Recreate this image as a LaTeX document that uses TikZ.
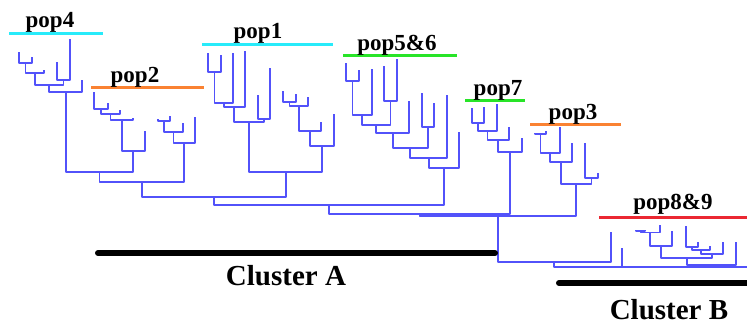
\documentclass[tikz,border=0pt]{standalone}
\usepackage{fontspec}
\setmainfont{Liberation Serif}
\usetikzlibrary{calc}
\definecolor{treeblue}{RGB}{82,82,250}
\definecolor{popcyan}{RGB}{40,235,250}
\definecolor{poporange}{RGB}{250,130,50}
\definecolor{popgreen}{RGB}{40,228,40}
\definecolor{popred}{RGB}{235,40,50}
% join two branches at a given height
\newcommand{\merge}[4]{%
  \path let \p1=(#2), \p2=(#3) in ({(\x1+\x2)/2},{-#4pt}) coordinate (#1);
  \draw[branch] (#2) |- (#1) -| (#3);}

\begin{document}
\begin{tikzpicture}[x=1pt, y=-1pt,
  branch/.style={draw=treeblue, line width=1.9pt, line join=round},
  popbar/.style={line width=3pt},
  clbar/.style={line width=6pt, line cap=round},
  poplab/.style={anchor=base, inner sep=0pt, font=\bfseries\fontsize{23}{25}\selectfont},
  cllab/.style={anchor=base, inner sep=0pt, font=\bfseries\fontsize{29}{32}\selectfont}
]
\useasboundingbox (0,0) rectangle (747,325);

% pop4
\coordinate (d1) at (19,52);
\coordinate (d2) at (32,57);
\coordinate (d3) at (44,70);
\coordinate (d4) at (57,62);
\coordinate (d5) at (70,39);
\coordinate (d6) at (82,80);
\merge{d12}{d1}{d2}{63}
\merge{d13}{d12}{d3}{73}
\merge{d45}{d4}{d5}{80}
\merge{d15}{d13}{d45}{85}
\merge{d16}{d15}{d6}{92}

% pop2
\coordinate (b1) at (94,92);
\coordinate (b2) at (108,103);
\coordinate (b3) at (120,110);
\coordinate (b4) at (133,118);
\coordinate (b5) at (145,131);
\merge{b12}{b1}{b2}{109}
\merge{b13}{b12}{b3}{114}
\merge{b14}{b13}{b4}{120}
\merge{b15}{b14}{b5}{151}
\merge{db}{d16}{b15}{172}
\coordinate (c1) at (158,119);
\coordinate (c2) at (170,116);
\coordinate (c3) at (183,123);
\coordinate (c4) at (195,117);
\merge{c12}{c1}{c2}{121}
\merge{c13}{c12}{c3}{132}
\merge{c14}{c13}{c4}{143}
\merge{dc}{db}{c14}{182}

% pop1
\coordinate (e1) at (208,53);
\coordinate (e2) at (221,55);
\coordinate (e3) at (233,53);
\coordinate (e4) at (245,51);
\coordinate (e5) at (258,95);
\coordinate (e6) at (270,68);
\merge{e12}{e1}{e2}{72}
\merge{e13}{e12}{e3}{103}
\merge{e14}{e13}{e4}{107}
\merge{e56}{e5}{e6}{119}
\merge{e16}{e14}{e56}{122}
\coordinate (f1) at (283,91);
\coordinate (f2) at (296,94);
\coordinate (f3) at (308,97);
\coordinate (f4) at (321,122);
\coordinate (f5) at (334,114);
\merge{f12}{f1}{f2}{102}
\merge{f13}{f12}{f3}{106}
\merge{f14}{f13}{f4}{131}
\merge{f15}{f14}{f5}{146}
\merge{ef}{e16}{f15}{172}
\merge{df}{dc}{ef}{197}

% pop5&6
\coordinate (g1) at (346,63);
\coordinate (g2) at (359,70);
\coordinate (g3) at (372,69);
\coordinate (g4) at (384,66);
\coordinate (g5) at (397,59);
\coordinate (g6) at (409,101);
\coordinate (g7) at (422,93);
\coordinate (g8) at (434,103);
\coordinate (g9) at (447,95);
\coordinate (g10) at (459,132);
\merge{g12}{g1}{g2}{81}
\merge{g13}{g12}{g3}{115}
\merge{g45}{g4}{g5}{101}
\merge{g15}{g13}{g45}{125}
\merge{g16}{g15}{g6}{133}
\merge{g78}{g7}{g8}{127}
\merge{g18}{g16}{g78}{148}
\merge{g19}{g18}{g9}{158}
\merge{g110}{g19}{g10}{168}
\merge{dg}{df}{g110}{205}

% pop7
\coordinate (h1) at (472,108);
\coordinate (h2) at (484,107);
\coordinate (h3) at (497,104);
\coordinate (h4) at (509,127);
\coordinate (h5) at (522,138);
\merge{h12}{h1}{h2}{123}
\merge{h13}{h12}{h3}{131}
\merge{h14}{h13}{h4}{140}
\merge{h15}{h14}{h5}{152}
\merge{dh}{dg}{h15}{214}

% pop3
\coordinate (k1) at (535,133);
\coordinate (k2) at (546,131);
\coordinate (k3) at (560,127);
\coordinate (k4) at (572,143);
\coordinate (k5) at (585,143);
\coordinate (k6) at (598,173);
\merge{k12}{k1}{k2}{134}
\merge{k13}{k12}{k3}{153}
\merge{k14}{k13}{k4}{162}
\merge{k56}{k5}{k6}{178}
\merge{k16}{k14}{k56}{184}
\merge{clA}{dh}{k16}{216}

% pop8&9
\coordinate (m1) at (611,232);
\coordinate (m2) at (622,248);
\merge{am}{clA}{m1}{262}
\coordinate (n1) at (636,230);
\coordinate (n2) at (645,230);
\coordinate (n3) at (660,225);
\coordinate (n4) at (672,231);
\merge{n12}{n1}{n2}{231}
\merge{n13}{n12}{n3}{232.5}
\merge{n14}{n13}{n4}{246}
\coordinate (p1) at (686,226);
\coordinate (p2) at (698,242);
\coordinate (p3) at (710,246);
\coordinate (p4) at (723,242);
\coordinate (p5) at (736,242);
\merge{p12}{p1}{p2}{247}
\merge{p13}{p12}{p3}{250}
\merge{p14}{p13}{p4}{254}
\merge{np}{n14}{p14}{258}
\merge{np5}{np}{p5}{265}
\merge{mp}{m2}{np5}{267}
\coordinate (cut) at (748,267);
\merge{clB}{mp}{cut}{267}
\merge{root}{am}{clB}{267}

% population bars and labels
\draw[popbar, popcyan] (9,33) -- (103,33);
\node[poplab] (lab4) at (50,27) {pop4};
\draw[popbar, poporange] (91,87) -- (204,87);
\node[poplab] (lab2) at (135,82) {pop2};
\draw[popbar, popcyan] (202,44) -- (333,44);
\node[poplab] (lab1) at (258,38) {pop1};
\draw[popbar, popgreen] (343,55) -- (457,55);
\node[poplab] (lab56) at (397,50) {pop5\&6};
\draw[popbar, popgreen] (465,100) -- (525,100);
\node[poplab] (lab7) at (498,95) {pop7};
\draw[popbar, poporange] (530,124) -- (621,124);
\node[poplab] (lab3) at (573,119) {pop3};
\draw[popbar, popred] (599,217) -- (750,217);
\node[poplab] (lab89) at (673,209) {pop8\&9};

% clusters
\draw[clbar] (98,253) -- (495,253);
\node[cllab] (clusA) at (286,285) {Cluster A};
\draw[clbar] (559,283) -- (752,283);
\node[cllab] (clusB) at (669,319) {Cluster B};
\end{tikzpicture}
\end{document}
